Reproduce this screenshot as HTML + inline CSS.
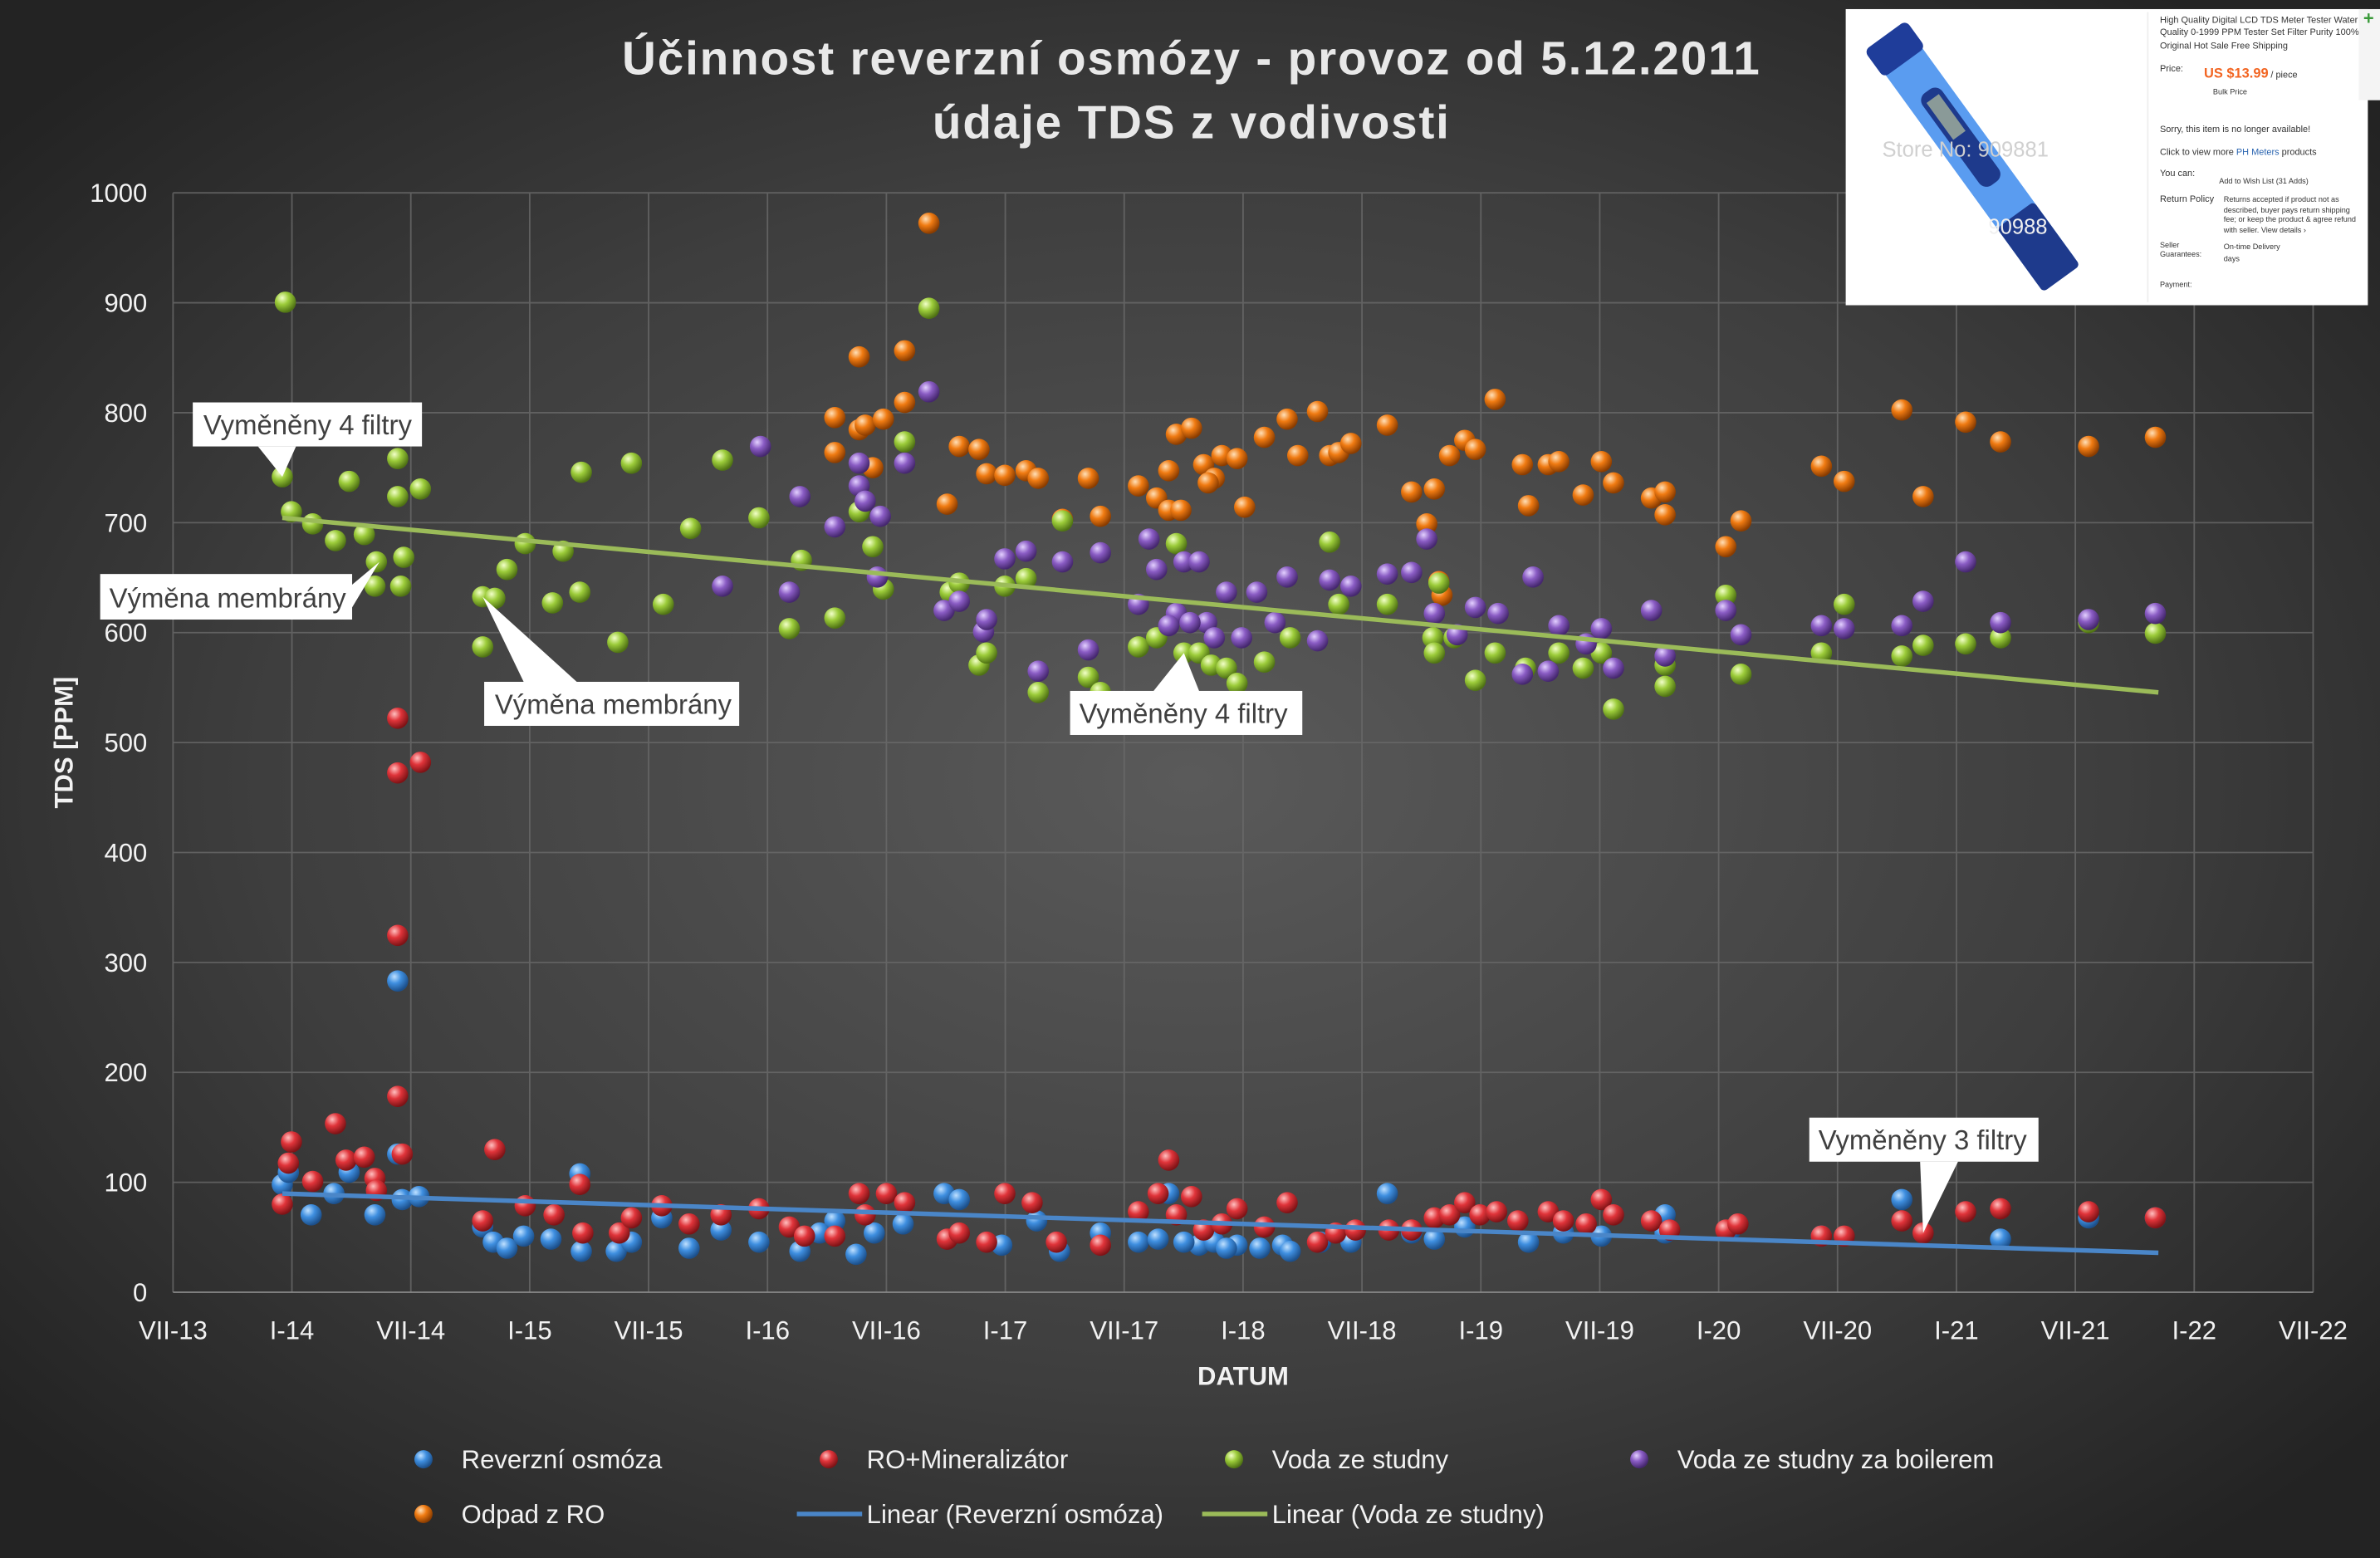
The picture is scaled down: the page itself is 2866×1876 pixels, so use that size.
<!DOCTYPE html>
<html><head><meta charset="utf-8">
<style>
html,body{margin:0;padding:0;background:#2a2a2a;}
svg{display:block;}
text{font-family:"Liberation Sans",sans-serif;}
</style></head>
<body>
<svg id="s" width="2866" height="1876" viewBox="0 0 1568 1026" preserveAspectRatio="none" xmlns="http://www.w3.org/2000/svg">
<defs>
<radialGradient id="bg" cx="50%" cy="50%" r="65%">
<stop offset="0" stop-color="#5a5a5a"/><stop offset="0.6" stop-color="#3e3e3e"/><stop offset="1" stop-color="#232323"/>
</radialGradient>
<radialGradient id="gB" cx="35%" cy="30%" r="70%"><stop offset="0" stop-color="#bfe0ff"/><stop offset="0.45" stop-color="#3f8fe0"/><stop offset="1" stop-color="#1c4f8a"/></radialGradient>
<radialGradient id="gR" cx="35%" cy="30%" r="70%"><stop offset="0" stop-color="#ffc0c0"/><stop offset="0.45" stop-color="#e0343a"/><stop offset="1" stop-color="#7e1316"/></radialGradient>
<radialGradient id="gG" cx="35%" cy="30%" r="70%"><stop offset="0" stop-color="#f2ffc9"/><stop offset="0.45" stop-color="#9ccc3a"/><stop offset="1" stop-color="#4f7214"/></radialGradient>
<radialGradient id="gP" cx="35%" cy="30%" r="70%"><stop offset="0" stop-color="#e3d0ff"/><stop offset="0.45" stop-color="#8a5cc4"/><stop offset="1" stop-color="#45276e"/></radialGradient>
<radialGradient id="gO" cx="35%" cy="30%" r="70%"><stop offset="0" stop-color="#ffe0b8"/><stop offset="0.45" stop-color="#f07b12"/><stop offset="1" stop-color="#8a3c00"/></radialGradient>
</defs>
<rect width="1568" height="1026" fill="url(#bg)"/>
<g id="grid" stroke="#6a6a6a" stroke-width="1" opacity="0.8"></g>
<line x1="114" y1="851" x2="1524" y2="851" stroke="#8a8a8a" stroke-width="1"/>
<g id="ticks" fill="#f2f2f2" font-size="17"></g>
<text x="785" y="49" text-anchor="middle" font-size="31" font-weight="bold" fill="#e8e8e8" letter-spacing="1">Účinnost reverzní osmózy - provoz od 5.12.2011</text>
<text x="785" y="91" text-anchor="middle" font-size="31" font-weight="bold" fill="#e8e8e8" letter-spacing="1">údaje TDS  z vodivosti</text>
<text x="819" y="912" text-anchor="middle" font-size="17" font-weight="bold" fill="#f2f2f2">DATUM</text>
<text transform="translate(48,489) rotate(-90)" text-anchor="middle" font-size="17" font-weight="bold" fill="#f2f2f2">TDS [PPM]</text>
<g id="pts"></g>
<line x1="186" y1="786" x2="1422" y2="825" stroke="#4a86c8" stroke-width="3"/>
<line x1="186" y1="341" x2="1422" y2="456" stroke="#9bbb59" stroke-width="3"/>
<g font-size="18" fill="#404040">
<polygon points="170,294 195,294 186,314" fill="#fff"/>
<rect x="127" y="265" width="151" height="29" fill="#fff"/><text x="134" y="286">Vyměněny 4 filtry</text>
<polygon points="220,385 232,385 250,370 232,400" fill="#fff"/>
<rect x="66" y="378" width="166" height="30" fill="#fff"/><text x="72" y="400">Výměna membrány</text>
<polygon points="345,449 380,449 318,393" fill="#fff"/>
<rect x="319" y="449" width="168" height="29" fill="#fff"/><text x="326" y="470">Výměna membrány</text>
<polygon points="760,455 790,455 780,430" fill="#fff"/>
<rect x="705" y="455" width="153" height="29" fill="#fff"/><text x="711" y="476">Vyměněny 4 filtry</text>
<polygon points="1265,765 1290,765 1267,812" fill="#fff"/>
<rect x="1192" y="736" width="151" height="29" fill="#fff"/><text x="1198" y="757">Vyměněny 3 filtry</text>
</g>
<g font-size="17" fill="#f2f2f2">
<circle cx="279" cy="961" r="6" fill="url(#gB)"/><text x="304" y="967">Reverzní osmóza</text>
<circle cx="546" cy="961" r="6" fill="url(#gR)"/><text x="571" y="967">RO+Mineralizátor</text>
<circle cx="813" cy="961" r="6" fill="url(#gG)"/><text x="838" y="967">Voda ze studny</text>
<circle cx="1080" cy="961" r="6" fill="url(#gP)"/><text x="1105" y="967">Voda ze studny za boilerem</text>
<circle cx="279" cy="997" r="6" fill="url(#gO)"/><text x="304" y="1003">Odpad z RO</text>
<line x1="525" y1="997" x2="568" y2="997" stroke="#4a86c8" stroke-width="3"/><text x="571" y="1003">Linear (Reverzní osmóza)</text>
<line x1="792" y1="997" x2="835" y2="997" stroke="#9bbb59" stroke-width="3"/><text x="838" y="1003">Linear (Voda ze studny)</text>
</g>
<rect x="1216" y="6" width="344" height="195" fill="#fff"/>
<g transform="translate(1243,30) rotate(-36)">
<rect x="-12" y="0" width="30" height="190" rx="5" fill="#5a9cf0"/>
<rect x="-14" y="-6" width="34" height="22" rx="4" fill="#1f3d9a"/>
<rect x="-12" y="140" width="30" height="52" rx="3" fill="#1e3a8c"/>
<rect x="-4" y="40" width="16" height="75" rx="6" fill="#1e3a8c"/>
<rect x="-1" y="46" width="10" height="30" fill="#8a9a98"/>
</g>
<text x="1240" y="103" font-size="14" fill="#d0d0d0">Store No: 909881</text>
<text x="1310" y="154" font-size="14" fill="#f0f0f0">90988</text>
<line x1="1415" y1="8" x2="1415" y2="199" stroke="#eee"/>
<g font-size="6" fill="#333">
<text x="1423" y="15">High Quality Digital LCD TDS Meter Tester Water</text>
<text x="1423" y="23">Quality 0-1999 PPM Tester Set Filter Purity 100%</text>
<text x="1423" y="32">Original Hot Sale Free Shipping</text>
<text x="1423" y="47">Price:</text>
<text x="1452" y="51" font-size="9" fill="#f26522" font-weight="bold">US $13.99</text><text x="1496" y="51">/ piece</text>
<text x="1458" y="62" font-size="5">Bulk Price</text>
<text x="1423" y="87">Sorry, this item is no longer available!</text>
<text x="1423" y="102">Click to view more <tspan fill="#2a64b0">PH Meters</tspan> products</text>
<text x="1423" y="116">You can:</text><text x="1462" y="121" font-size="5">Add to Wish List (31 Adds)</text>
<text x="1423" y="133">Return Policy</text>
<text x="1465" y="133" font-size="5">Returns accepted if product not as</text>
<text x="1465" y="140" font-size="5">described, buyer pays return shipping</text>
<text x="1465" y="146" font-size="5">fee; or keep the product &amp; agree refund</text>
<text x="1465" y="153" font-size="5">with seller. View details ›</text>
<text x="1423" y="163" font-size="5">Seller</text><text x="1423" y="169" font-size="5">Guarantees:</text>
<text x="1465" y="164" font-size="5">On-time Delivery</text><text x="1465" y="172" font-size="5">days</text>
<text x="1423" y="189" font-size="5">Payment:</text>
</g>
<rect x="1554" y="6" width="14" height="60" fill="#f4f4f4"/>
<text x="1557" y="16" font-size="12" fill="#3a9a3a" font-weight="bold">+</text>
</svg>
<script>
var NS="http://www.w3.org/2000/svg";
function el(t,a,p){var e=document.createElementNS(NS,t);for(var k in a)e.setAttribute(k,a[k]);p.appendChild(e);return e;}
var grid=document.getElementById('grid'),ticks=document.getElementById('ticks');
var labs=["VII-13","I-14","VII-14","I-15","VII-15","I-16","VII-16","I-17","VII-17","I-18","VII-18","I-19","VII-19","I-20","VII-20","I-21","VII-21","I-22","VII-22"];
for(var i=0;i<labs.length;i++){var x=114+i*78.33;el('line',{x1:x,y1:127,x2:x,y2:851},grid);var t=el('text',{x:x,y:882,'text-anchor':'middle'},ticks);t.textContent=labs[i];}
for(var v=0;v<=1000;v+=100){var y=851-v*0.724;if(v>0)el('line',{x1:114,y1:y,x2:1524,y2:y},grid);var t=el('text',{x:97,y:y+6,'text-anchor':'end'},ticks);t.textContent=v;}
var D={
gO:[[612,147],[566,235],[596,231],[550,275],[566,283],[570,280],[582,276],[596,265],[575,308],[550,298],[624,332],[632,294],[645,296],[650,312],[662,313],[676,310],[684,315],[700,342],[717,315],[725,340],[750,320],[762,328],[770,310],[775,286],[785,282],[793,306],[800,315],[805,300],[815,302],[820,334],[833,288],[848,276],[855,300],[868,271],[876,300],[882,298],[890,292],[914,280],[930,324],[945,322],[940,345],[948,383],[950,392],[955,300],[965,290],[972,296],[985,263],[1003,306],[1007,333],[1020,306],[1027,304],[1043,326],[1055,304],[1063,318],[1088,328],[1097,324],[1097,339],[1137,360],[1147,343],[1200,307],[1215,317],[1253,270],[1267,327],[1295,278],[1318,291],[1376,294],[1420,288],[770,336],[778,336],[796,318]],
gG:[[188,199],[186,314],[192,337],[206,345],[221,356],[230,317],[240,352],[247,386],[248,370],[262,302],[262,327],[264,386],[266,367],[277,322],[318,426],[318,393],[326,394],[334,375],[346,358],[364,397],[371,363],[383,311],[382,390],[407,423],[416,305],[437,398],[455,348],[476,303],[500,341],[520,414],[528,369],[550,407],[566,337],[575,360],[582,388],[596,291],[612,203],[626,390],[632,384],[645,438],[650,430],[662,386],[676,381],[684,456],[700,343],[717,446],[725,456],[750,426],[762,420],[775,358],[780,430],[790,430],[798,438],[808,440],[815,450],[833,436],[850,420],[876,357],[882,398],[914,398],[944,420],[948,384],[945,430],[958,420],[972,448],[985,430],[1005,440],[1027,430],[1043,440],[1055,430],[1063,467],[1097,452],[1097,438],[1137,392],[1147,444],[1200,430],[1215,398],[1253,432],[1267,425],[1295,424],[1318,420],[1376,410],[1420,417]],
gP:[[501,294],[520,390],[527,327],[550,347],[566,320],[570,330],[578,380],[580,340],[596,305],[612,258],[622,402],[632,396],[648,416],[650,408],[662,368],[676,363],[684,442],[700,370],[717,428],[725,364],[750,398],[757,355],[762,375],[775,404],[780,370],[790,370],[795,410],[808,390],[818,420],[828,390],[840,410],[848,380],[868,422],[876,382],[890,386],[914,378],[930,377],[940,355],[945,404],[960,418],[972,400],[987,404],[1003,444],[1010,380],[1020,442],[1027,412],[1045,424],[1055,414],[1063,440],[1088,402],[1097,432],[1137,402],[1147,418],[1200,412],[1215,414],[1253,412],[1267,396],[1295,370],[1318,410],[1376,408],[1420,404],[476,386],[566,305],[770,412],[784,410],[800,420]],
gB:[[262,646],[262,760],[186,780],[190,772],[205,800],[220,786],[230,772],[247,800],[265,790],[276,788],[318,808],[325,818],[334,822],[345,814],[382,773],[383,824],[406,824],[436,802],[454,822],[475,810],[500,818],[527,824],[550,804],[564,826],[576,812],[595,806],[622,786],[632,790],[660,820],[683,804],[698,824],[725,812],[750,818],[763,816],[770,786],[790,820],[800,818],[815,820],[830,822],[845,820],[870,818],[890,818],[914,786],[930,812],[945,816],[965,808],[1007,818],[1030,812],[1055,814],[1097,800],[1097,812],[1140,810],[1200,814],[1253,790],[1318,816],[1376,802],[1420,802],[363,816],[416,818],[540,812],[780,818],[808,822],[850,824]],
gR:[[186,793],[190,766],[192,752],[206,778],[221,740],[228,764],[240,762],[247,776],[248,784],[262,722],[262,616],[262,509],[265,760],[277,502],[318,804],[326,757],[346,794],[365,800],[382,780],[384,812],[408,812],[416,802],[436,794],[454,806],[475,800],[500,796],[520,808],[530,814],[550,814],[566,786],[570,800],[584,786],[596,792],[624,816],[632,812],[650,818],[662,786],[680,792],[696,818],[725,820],[750,798],[763,786],[770,764],[775,800],[785,788],[793,810],[805,806],[815,796],[833,808],[848,792],[868,818],[880,812],[893,810],[915,810],[930,810],[945,802],[955,800],[965,792],[975,800],[986,798],[1000,804],[1020,798],[1030,804],[1045,806],[1055,790],[1063,800],[1088,804],[1100,810],[1137,810],[1145,806],[1200,814],[1215,814],[1253,804],[1267,812],[1295,798],[1318,796],[1376,798],[1420,802],[262,473]]
};
var pts=document.getElementById('pts');
["gO","gG","gP","gB","gR"].forEach(function(k){D[k].forEach(function(p){el('circle',{cx:p[0],cy:p[1],r:7,fill:'url(#'+k+')'},pts);});});
</script>
</body></html>
